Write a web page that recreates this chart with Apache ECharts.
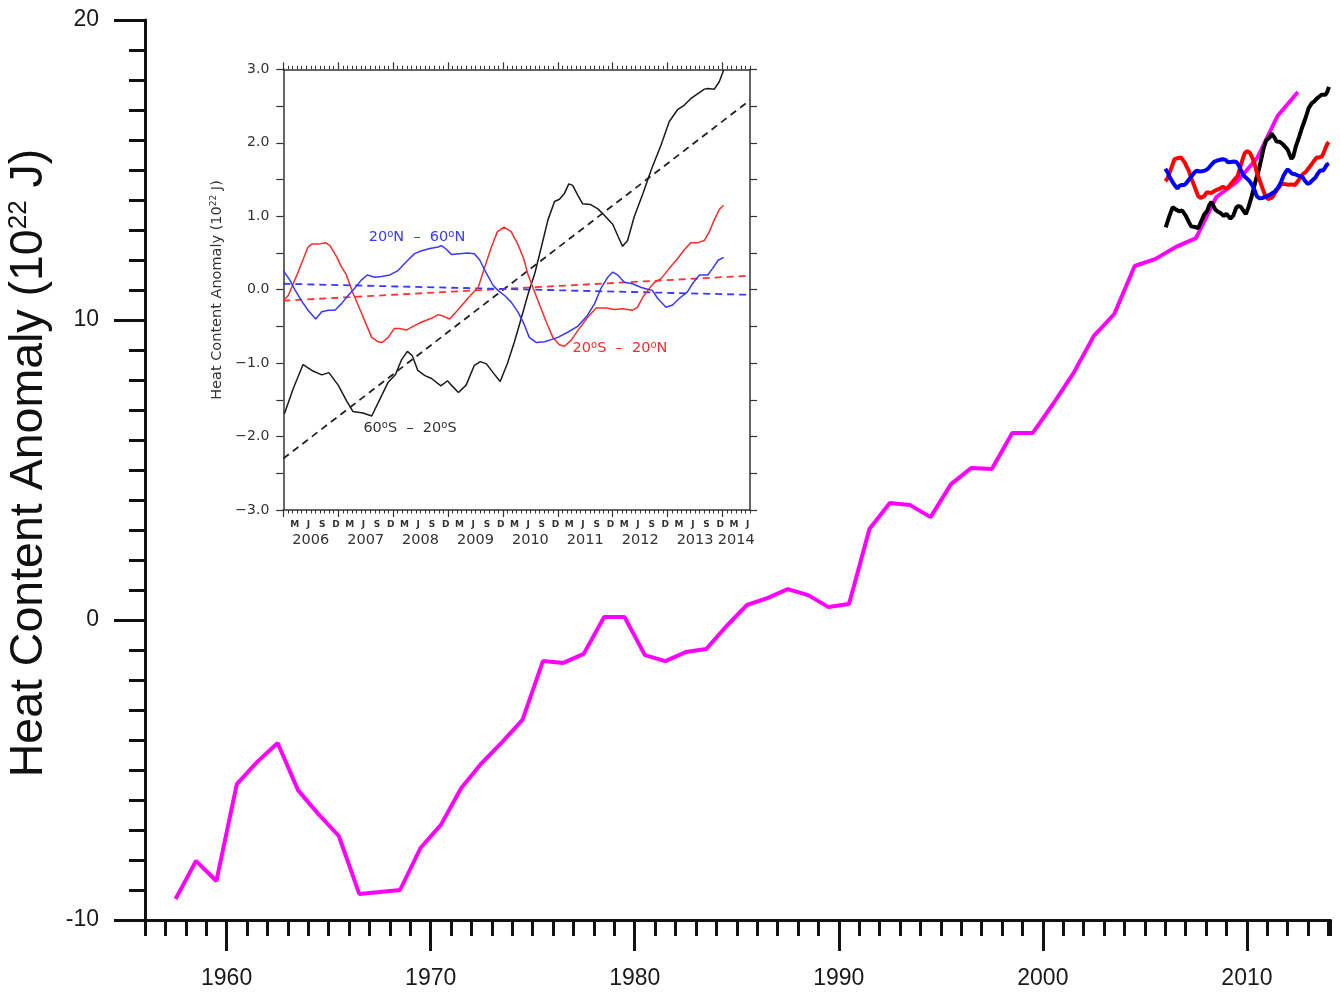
<!DOCTYPE html>
<html><head><meta charset="utf-8">
<script src="https://cdn.jsdelivr.net/npm/echarts@6/dist/echarts.min.js"></script>
<style>html,body{margin:0;padding:0;background:#fff}#c{width:1340px;height:996px}</style>
</head><body><div id="c"></div>
<script>
// ---------- Main panel: annual heat content anomaly (10^22 J) ----------
const mainYears = [1957.5,1958.5,1959.5,1960.5,1961.5,1962.5,1963.5,1964.5,1965.5,1966.5,1967.5,1968.5,1969.5,1970.5,1971.5,1972.5,1973.5,1974.5,1975.5,1976.5,1977.5,1978.5,1979.5,1980.5,1981.5,1982.5,1983.5,1984.5,1985.5,1986.5,1987.5,1988.5,1989.5,1990.5,1991.5,1992.5,1993.5,1994.5,1995.5,1996.5,1997.5,1998.5,1999.5,2000.5,2001.5,2002.5,2003.5,2004.5,2005.5,2006.5,2007.5,2008.5,2009.5,2010.5,2011.5,2012.5];
const mainValues = [-9.3,-8.03,-8.7,-5.47,-4.73,-4.1,-5.67,-6.47,-7.2,-9.13,-9.07,-9.0,-7.6,-6.83,-5.6,-4.77,-4.07,-3.33,-1.37,-1.43,-1.13,0.1,0.1,-1.17,-1.37,-1.07,-0.97,-0.2,0.5,0.73,1.03,0.83,0.43,0.53,3.03,3.9,3.83,3.43,4.53,5.07,5.03,6.23,6.23,7.2,8.23,9.47,10.2,11.8,12.03,12.43,12.73,14.1,14.6,15.4,16.8,17.6];
// vertical shift at which the regional curves are repeated in the main panel
const mainShift = 14.78;

// ---------- Inset: regional anomalies (10^22 J) ----------
const blackT = [2006.02,2006.18,2006.36,2006.52,2006.70,2006.83,2007.00,2007.15,2007.27,2007.45,2007.61,2007.76,2007.91,2008.04,2008.15,2008.26,2008.35,2008.45,2008.58,2008.70,2008.87,2008.99,2009.06,2009.19,2009.33,2009.48,2009.59,2009.70,2009.82,2009.95,2010.08,2010.21,2010.33,2010.45,2010.58,2010.70,2010.82,2010.94,2011.03,2011.12,2011.20,2011.27,2011.36,2011.45,2011.59,2011.73,2011.85,2012.00,2012.10,2012.18,2012.27,2012.39,2012.55,2012.70,2012.88,2013.03,2013.18,2013.30,2013.42,2013.55,2013.67,2013.73,2013.85,2013.94,2014.02];
const blackV = [-1.69,-1.35,-1.02,-1.10,-1.16,-1.13,-1.30,-1.51,-1.66,-1.68,-1.72,-1.49,-1.26,-1.16,-0.96,-0.84,-0.90,-1.10,-1.17,-1.21,-1.31,-1.24,-1.30,-1.40,-1.30,-1.03,-0.98,-1.01,-1.13,-1.25,-1.01,-0.71,-0.40,-0.08,0.22,0.58,0.95,1.20,1.23,1.31,1.44,1.42,1.29,1.17,1.16,1.10,1.01,0.89,0.72,0.59,0.67,0.99,1.31,1.63,1.97,2.29,2.45,2.51,2.60,2.67,2.73,2.74,2.73,2.83,2.99];

const redT = [2006.00,2006.09,2006.27,2006.45,2006.52,2006.64,2006.77,2006.85,2006.97,2007.06,2007.15,2007.27,2007.39,2007.52,2007.61,2007.73,2007.80,2007.91,2008.02,2008.12,2008.24,2008.39,2008.52,2008.70,2008.82,2008.91,2009.03,2009.15,2009.30,2009.42,2009.55,2009.67,2009.79,2009.90,2010.02,2010.15,2010.27,2010.38,2010.45,2010.55,2010.67,2010.79,2010.91,2011.03,2011.12,2011.24,2011.39,2011.55,2011.70,2011.88,2012.03,2012.18,2012.36,2012.45,2012.55,2012.64,2012.76,2012.88,2013.03,2013.18,2013.30,2013.42,2013.55,2013.67,2013.76,2013.85,2013.94,2014.02];
const redV = [-0.15,-0.08,0.24,0.58,0.62,0.62,0.64,0.60,0.45,0.31,0.20,-0.05,-0.26,-0.49,-0.65,-0.71,-0.72,-0.65,-0.53,-0.53,-0.55,-0.49,-0.44,-0.39,-0.34,-0.36,-0.40,-0.30,-0.17,-0.07,0.03,0.31,0.58,0.79,0.85,0.79,0.62,0.42,0.22,0.02,-0.21,-0.44,-0.65,-0.75,-0.77,-0.69,-0.53,-0.37,-0.25,-0.25,-0.27,-0.26,-0.28,-0.24,-0.10,-0.01,0.10,0.15,0.29,0.42,0.54,0.64,0.64,0.67,0.79,0.95,1.09,1.15];

const blueT = [2006.00,2006.12,2006.21,2006.33,2006.45,2006.59,2006.70,2006.82,2006.94,2007.06,2007.18,2007.30,2007.42,2007.53,2007.67,2007.79,2007.94,2008.09,2008.24,2008.39,2008.52,2008.67,2008.82,2008.88,2008.97,2009.06,2009.21,2009.36,2009.48,2009.58,2009.70,2009.82,2009.91,2010.03,2010.15,2010.27,2010.38,2010.48,2010.61,2010.76,2010.88,2011.00,2011.18,2011.36,2011.52,2011.67,2011.78,2011.91,2012.00,2012.09,2012.21,2012.36,2012.52,2012.62,2012.72,2012.82,2012.97,2013.09,2013.21,2013.36,2013.45,2013.58,2013.73,2013.82,2013.92,2014.02];
const blueV = [0.26,0.13,0.00,-0.15,-0.28,-0.40,-0.30,-0.28,-0.28,-0.19,-0.08,0.02,0.13,0.20,0.17,0.18,0.20,0.26,0.38,0.49,0.53,0.56,0.58,0.60,0.55,0.48,0.49,0.50,0.49,0.40,0.22,0.06,-0.01,-0.08,-0.17,-0.30,-0.46,-0.65,-0.72,-0.71,-0.68,-0.65,-0.58,-0.50,-0.37,-0.19,0.01,0.17,0.24,0.20,0.10,0.08,0.03,0.01,-0.01,-0.12,-0.24,-0.21,-0.12,-0.03,0.08,0.20,0.20,0.29,0.40,0.44];

// linear trend lines (end points read at the inset frame edges)
const trendT = [2006.0, 2014.5];
const blackTrendV = [-2.30, 2.58];
const redTrendV = [-0.15, 0.19];
const blueTrendV = [0.08, -0.07];

// ---------- Tick labels ----------
const mainXLabelYears = [1960,1970,1980,1990,2000,2010];
const insetYearLabels = ['2006','2007','2008','2009','2010','2011','2012','2013','2014'];
const monthLetters = {2:'M',5:'J',8:'S',11:'D'};

const zip = (a, b, add) => a.map((t, i) => [t, b[i] + (add || 0)]);

// tick layout positions
const insetYearTicks = [];
for (let y = 2006; y <= 2014; y++) insetYearTicks.push(y);
const insetMonthTicks = [];
for (let m = 0; m <= 102; m++) insetMonthTicks.push(2006 + m / 12);
const insetMonthLabelPos = [];
for (let m = 0; m < 102; m++) if (monthLetters[m % 12]) insetMonthLabelPos.push(2006 + (m + 0.5) / 12);
const insetYearLabelPos = insetYearLabels.map((s, i) => i < 8 ? 2006.5 + i : 2014.25);

const chart = echarts.init(document.getElementById('c'), null, {renderer: 'canvas'});
const MAINF = 'Liberation Sans, Arial, sans-serif';
const INSF = 'DejaVu Sans, sans-serif';
const AX = '#111';
const IAX = '#333';

const option = {
  animation: false,
  backgroundColor: '#fff',
  grid: [
    {left: 145, top: 20, width: 1185.6, height: 900, outerBoundsMode: 'none', containLabel: false},
    {left: 283.3, top: 69.3, width: 466.7, height: 440.7, outerBoundsMode: 'none', containLabel: false, show: true, backgroundColor: '#fff', borderWidth: 0}
  ],
  xAxis: [
    // 0 main: yearly ticks + axis line
    {type: 'value', gridIndex: 0, min: 1956, max: 2014.1, interval: 1, position: 'bottom',
     axisLine: {show: true, onZero: false, lineStyle: {color: AX, width: 3}},
     axisTick: {show: true, inside: false, length: 16, lineStyle: {color: AX, width: 3}},
     axisLabel: {show: false}, splitLine: {show: false}},
    // 1 main: decade ticks + labels
    {type: 'value', gridIndex: 0, min: 1956, max: 2014.1, position: 'bottom',
     axisLine: {show: false, onZero: false},
     axisTick: {show: true, inside: false, length: 31, customValues: mainXLabelYears, lineStyle: {color: AX, width: 3}},
     axisLabel: {show: true, customValues: mainXLabelYears, margin: 47, fontSize: 23, fontFamily: MAINF, color: '#1a1a1a', formatter: v => String(Math.round(v))},
     splitLine: {show: false}},
    // 2 inset bottom: frame + year ticks + year labels
    {type: 'value', gridIndex: 1, min: 2006, max: 2014.5, position: 'bottom',
     axisLine: {show: true, onZero: false, lineStyle: {color: IAX, width: 1.5}},
     axisTick: {show: true, inside: false, length: 7, customValues: insetYearTicks, lineStyle: {color: IAX, width: 1.2}},
     axisLabel: {show: true, customValues: insetYearLabelPos, margin: 23, fontSize: 14.5, fontFamily: INSF, color: '#333',
       formatter: v => String(Math.floor(v))},
     splitLine: {show: false}},
    // 3 inset bottom: monthly ticks + month letters
    {type: 'value', gridIndex: 1, min: 2006, max: 2014.5, position: 'bottom',
     axisLine: {show: false, onZero: false},
     axisTick: {show: true, inside: false, length: 3.5, customValues: insetMonthTicks, lineStyle: {color: IAX, width: 1}},
     axisLabel: {show: true, customValues: insetMonthLabelPos, margin: 10, fontSize: 9, fontWeight: 'bold', fontFamily: INSF, color: '#333',
       formatter: v => monthLetters[((Math.round((v - 2006) * 12 - 0.5)) % 12 + 12) % 12] || ''},
     splitLine: {show: false}},
    // 4 inset top: frame + year ticks
    {type: 'value', gridIndex: 1, min: 2006, max: 2014.5, position: 'top',
     axisLine: {show: true, onZero: false, lineStyle: {color: IAX, width: 1.5}},
     axisTick: {show: true, inside: false, length: 7, customValues: insetYearTicks, lineStyle: {color: IAX, width: 1.2}},
     axisLabel: {show: false}, splitLine: {show: false}},
    // 5 inset top: monthly ticks
    {type: 'value', gridIndex: 1, min: 2006, max: 2014.5, position: 'top',
     axisLine: {show: false, onZero: false},
     axisTick: {show: true, inside: false, length: 3.5, customValues: insetMonthTicks, lineStyle: {color: IAX, width: 1}},
     axisLabel: {show: false}, splitLine: {show: false}}
  ],
  yAxis: [
    {type: 'value', gridIndex: 0, min: -10, max: 20, interval: 10, position: 'left',
     axisLine: {show: true, onZero: false, lineStyle: {color: AX, width: 3}},
     axisTick: {show: true, inside: false, length: 31, lineStyle: {color: AX, width: 3}},
     minorTick: {show: true, splitNumber: 10, length: 16, lineStyle: {color: AX, width: 3}},
     axisLabel: {show: true, margin: 46, fontSize: 23, fontFamily: MAINF, color: '#1a1a1a', formatter: v => String(v)},
     splitLine: {show: false}, minorSplitLine: {show: false}},
    {type: 'value', gridIndex: 1, min: -3, max: 3, interval: 0.5, position: 'left',
     axisLine: {show: true, onZero: false, lineStyle: {color: IAX, width: 1.5}},
     axisTick: {show: true, inside: false, length: 7, lineStyle: {color: IAX, width: 1.2}},
     axisLabel: {show: true, margin: 14, fontSize: 14, fontFamily: INSF, color: '#333',
       formatter: v => Math.abs(v - Math.round(v)) < 1e-9 ? (v < 0 ? '\u2212' : '') + Math.abs(v).toFixed(1) : ''},
     splitLine: {show: false}},
    {type: 'value', gridIndex: 1, min: -3, max: 3, interval: 0.5, position: 'right',
     axisLine: {show: true, onZero: false, lineStyle: {color: IAX, width: 1.5}},
     axisTick: {show: true, inside: false, length: 7, lineStyle: {color: IAX, width: 1.2}},
     axisLabel: {show: false}, splitLine: {show: false}}
  ],
  series: [
    {type: 'line', name: 'annual', xAxisIndex: 0, yAxisIndex: 0, data: zip(mainYears, mainValues), showSymbol: false, symbol: 'none',
     lineStyle: {color: '#ff00ff', width: 4}, itemStyle: {color: '#ff00ff'}, z: 2},
    {type: 'line', name: '60S-20S main', xAxisIndex: 0, yAxisIndex: 0, data: zip(blackT, blackV, mainShift), showSymbol: false, symbol: 'none',
     lineStyle: {color: '#000', width: 4}, z: 3},
    {type: 'line', name: '20S-20N main', xAxisIndex: 0, yAxisIndex: 0, data: zip(redT, redV, mainShift), showSymbol: false, symbol: 'none',
     lineStyle: {color: '#ff0000', width: 4}, z: 3},
    {type: 'line', name: '20N-60N main', xAxisIndex: 0, yAxisIndex: 0, data: zip(blueT, blueV, mainShift), showSymbol: false, symbol: 'none',
     lineStyle: {color: '#0000ff', width: 4}, z: 3},

    {type: 'line', name: 'black trend', xAxisIndex: 2, yAxisIndex: 1, data: zip(trendT, blackTrendV), showSymbol: false, symbol: 'none',
     lineStyle: {color: '#222', width: 1.8, type: [7, 5]}, z: 4},
    {type: 'line', name: 'red trend', xAxisIndex: 2, yAxisIndex: 1, data: zip(trendT, redTrendV), showSymbol: false, symbol: 'none',
     lineStyle: {color: '#ff3333', width: 1.8, type: [7, 5]}, z: 4},
    {type: 'line', name: 'blue trend', xAxisIndex: 2, yAxisIndex: 1, data: zip(trendT, blueTrendV), showSymbol: false, symbol: 'none',
     lineStyle: {color: '#3838ff', width: 1.8, type: [7, 5]}, z: 4},
    {type: 'line', name: '60S-20S', xAxisIndex: 2, yAxisIndex: 1, data: zip(blackT, blackV), showSymbol: false, symbol: 'none',
     lineStyle: {color: '#1a1a1a', width: 1.5}, z: 5},
    {type: 'line', name: '20S-20N', xAxisIndex: 2, yAxisIndex: 1, data: zip(redT, redV), showSymbol: false, symbol: 'none',
     lineStyle: {color: '#ff2a2a', width: 1.5}, z: 5},
    {type: 'line', name: '20N-60N', xAxisIndex: 2, yAxisIndex: 1, data: zip(blueT, blueV), showSymbol: false, symbol: 'none',
     lineStyle: {color: '#3838ff', width: 1.5}, z: 5}
  ],
  graphic: [
    {type: 'text', x: 29, y: 463, rotation: Math.PI / 2, z: 10,
     style: {text: '{a|Heat Content Anomaly (10}{s|22}{a| J)}', align: 'center', verticalAlign: 'middle',
       rich: {a: {fontSize: 46.5, fontFamily: MAINF, fill: '#111'}, s: {fontSize: 26, fontFamily: MAINF, fill: '#111', verticalAlign: 'top'}}}},
    {type: 'text', x: 217, y: 290, rotation: Math.PI / 2, z: 10,
     style: {text: '{a|Heat Content Anomaly (10}{s|22}{a| J)}', align: 'center', verticalAlign: 'middle',
       rich: {a: {fontSize: 14.5, fontFamily: INSF, fill: '#333'}, s: {fontSize: 9, fontFamily: INSF, fill: '#333', verticalAlign: 'top'}}}},
    {type: 'text', x: 417, y: 237, z: 10,
     style: {text: '{a|20}{s|o}{a|N  \u2013  60}{s|o}{a|N}', align: 'center', verticalAlign: 'middle',
       rich: {a: {fontSize: 14.5, fontFamily: INSF, fill: '#3838ff'}, s: {fontSize: 10, fontFamily: INSF, fill: '#3838ff', verticalAlign: 'top'}}}},
    {type: 'text', x: 620, y: 348, z: 10,
     style: {text: '{a|20}{s|o}{a|S  \u2013  20}{s|o}{a|N}', align: 'center', verticalAlign: 'middle',
       rich: {a: {fontSize: 14.5, fontFamily: INSF, fill: '#ff2a2a'}, s: {fontSize: 10, fontFamily: INSF, fill: '#ff2a2a', verticalAlign: 'top'}}}},
    {type: 'text', x: 410, y: 428, z: 10,
     style: {text: '{a|60}{s|o}{a|S  \u2013  20}{s|o}{a|S}', align: 'center', verticalAlign: 'middle',
       rich: {a: {fontSize: 14.5, fontFamily: INSF, fill: '#333'}, s: {fontSize: 10, fontFamily: INSF, fill: '#333', verticalAlign: 'top'}}}}
  ]
};
chart.setOption(option);
</script></body></html>
